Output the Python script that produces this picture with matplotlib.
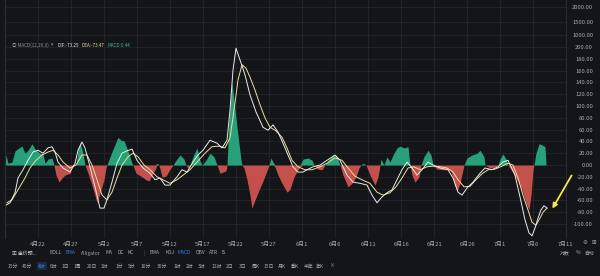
import matplotlib
matplotlib.use("Agg")
import matplotlib.pyplot as plt
import numpy as np

plt.rcParams['font.family'] = ['Noto Sans CJK SC', 'DejaVu Sans']

# MACD(12,26,9) on 4h bars, x = days since 4月22
hist_day = [-5.0, -4.85, -4.55, -3.94, -3.48, -2.88, -2.42, -1.97, -1.52, -0.91, -0.45, 0.30, 0.76, 1.06,
            1.52, 2.12, 2.42, 2.73, 3.18, 3.64, 4.09, 4.85, 5.15, 5.76, 6.06, 6.36, 6.82, 7.12, 7.58, 8.18,
            8.94, 9.55, 10.0, 10.3, 10.45, 10.91, 11.52, 12.12, 12.58, 13.03, 13.64, 14.24, 14.39, 14.85,
            15.76, 16.36, 16.82, 17.27, 17.73, 18.03, 18.33, 18.79, 19.39, 20.0, 20.45, 20.91, 21.52, 22.12,
            22.42, 22.73, 23.03, 23.48, 24.09, 24.55, 24.85, 25.45, 26.06, 26.67, 27.12, 27.58, 28.48, 28.64,
            28.94, 29.39, 29.85, 30.30, 30.76, 30.91, 31.21, 31.67, 32.12, 32.42, 32.88, 33.33, 33.94, 34.55,
            35.0, 35.30, 35.61, 35.91, 36.36, 36.97, 37.73, 38.18, 38.79, 39.39, 39.70, 40.15, 40.91, 41.52,
            41.82, 42.42, 43.03, 43.48, 43.94, 44.70, 45.30, 45.76, 46.21, 46.97, 47.58, 48.18, 48.64, 48.94,
            49.24, 49.70, 50.30, 51.06, 51.52, 51.82, 51.97, 52.42, 52.88, 53.33, 53.79, 54.39, 54.85, 55.45,
            56.06, 56.36, 56.67, 57.12, 57.73, 58.03, 58.48, 59.09, 59.55, 59.85, 60.45, 61.36, 62.12, 62.58,
            63.03, 63.48, 63.94, 64.39, 64.55, 65.0, 65.76, 66.52, 66.97, 67.58, 67.73, 68.48, 69.39, 69.70,
            70.0, 70.45, 70.91, 71.21, 71.82, 72.58, 73.33, 73.94, 74.39, 74.70, 75.0, 75.15, 75.45, 75.91,
            76.36, 76.82, 76.97]
hist_val = [0, 17, 3, 5, 24, 29, 32, 20, 25, 36, 27, 20, 19, 3,
            10, 12, 0, -17, -29, -22, -17, -14, -3, 0, 25, 39, 20, 0, -14, -34,
            -64, -42, -25, -5, 0, 14, 31, 47, 42, 41, 24, 3, 0, -14,
            -20, -25, -27, -17, -8, 3, 0, -20, -19, -7, 0, 8, 17, 10,
            0, -5, 0, 14, 29, 7, 0, 8, 20, 14, 0, -14, -10, 0,
            76, 141, 93, 51, 8, 0, -5, -25, -51, -73, -59, -47, -31, -14,
            0, 12, 5, -3, -17, -31, -46, -41, -20, -8, -3, 10, 12, 8,
            0, -7, -8, 0, 8, 17, 14, 0, -17, -37, -31, -20, -5, 0,
            3, 0, -17, -34, -20, 0, 10, 0, 14, 5, 17, 29, 32, 29,
            31, 0, -17, -29, -20, 0, 14, 25, 17, 0, -7, -8, -8, -10,
            -31, -44, -31, -8, 0, 12, 17, 20, 25, 14, 0, -5, -3, 0,
            10, 19, 10, 0, -10, -25, -42, -64, -76, -51, -8, 0, 20, 36,
            34, 31, 0]

dif_day = [-4.85, -4.24, -3.48, -3.03, -2.27, -1.52, -0.76, 0, 0.76, 1.52, 2.12, 2.58, 3.03, 3.79, 4.85,
           5.61, 6.06, 6.67, 7.12, 7.88, 8.64, 9.39, 10.0, 10.45, 11.21, 11.97, 12.73, 13.48, 14.24, 15.0,
           15.91, 16.97, 17.73, 18.48, 19.24, 20.0, 21.06, 21.82, 22.58, 23.48, 24.24, 25.0, 26.06, 27.12,
           27.88, 28.64, 29.09, 29.55, 30.0, 30.61, 31.36, 32.12, 33.03, 34.09, 34.85, 35.61, 36.36, 37.12,
           37.88, 38.64, 39.39, 40.15, 40.76, 41.67, 42.73, 43.79, 45.0, 45.76, 46.82, 47.73, 48.79, 49.85,
           50.61, 51.36, 52.12, 52.88, 53.64, 54.39, 55.15, 55.91, 56.67, 57.42, 58.18, 59.09, 59.85, 60.91,
           62.12, 62.88, 63.64, 64.24, 65.0, 65.91, 66.97, 67.73, 68.79, 69.70, 70.45, 71.21, 72.27, 73.03,
           73.79, 74.39, 74.85, 75.30, 75.76, 76.21, 76.67, 77.12]
dif_val = [-68, -64, -47, -22, -8, 8, 22, 25, 20, 29, 31, 22, 5, -5, -12,
           3, 25, 39, 29, -3, -37, -73, -73, -59, -29, 3, 20, 24, 27, 8,
           -5, -14, -25, -22, -34, -34, -20, -8, -12, 5, 17, 25, 42, 37,
           29, 42, 93, 161, 198, 178, 153, 119, 90, 64, 59, 68, 56, 37,
           17, -3, -12, -12, -8, -3, 0, 8, 17, 8, -17, -29, -31, -34,
           -51, -64, -54, -47, -42, -25, -8, 5, -5, -17, -8, 5, 0, -5,
           -8, -22, -46, -51, -39, -29, -14, -5, -8, -3, 5, 8, -17, -54,
           -93, -115, -120, -107, -90, -76, -69, -73]

dea_day = [-4.7, -3.94, -3.03, -1.97, -1.21, -0.30, 0.61, 1.52, 2.27, 3.03, 3.79, 4.85, 5.76, 6.67, 7.42,
           8.18, 8.94, 9.70, 10.45, 11.21, 11.97, 12.73, 13.64, 14.39, 15.15, 16.06, 16.97, 18.03, 18.94,
           20.0, 21.06, 22.0, 23.03, 24.09, 25.30, 26.36, 27.42, 28.33, 29.09, 29.70, 30.30, 30.91, 31.52,
           32.12, 32.88, 33.64, 34.39, 35.15, 36.06, 36.97, 37.73, 38.48, 39.39, 40.45, 41.52, 42.73, 43.79,
           45.0, 46.06, 46.97, 48.03, 49.09, 50.30, 51.36, 52.27, 53.33, 54.24, 55.15, 56.06, 56.97, 57.88,
           58.94, 59.85, 60.91, 61.97, 62.88, 63.64, 64.55, 65.45, 66.36, 67.27, 68.18, 69.24, 70.30, 71.21,
           71.97, 72.73, 73.48, 74.24, 74.85, 75.45, 76.06, 76.52, 77.12]
dea_val = [-64, -59, -42, -22, -5, 8, 17, 22, 25, 17, 5, -5, 0, 17, 17,
           0, -25, -51, -59, -46, -22, 0, 14, 20, 14, 0, -8, -20, -25,
           -31, -25, -17, -8, 5, 20, 31, 32, 29, 46, 93, 144, 170, 164,
           149, 127, 102, 80, 64, 58, 47, 29, 8, -3, -8, -8, -3, 3,
           12, 8, -5, -19, -25, -31, -46, -51, -47, -37, -22, -5, -3, -8,
           -3, -2, -3, -5, -12, -25, -37, -36, -25, -15, -8, -7, -2, 3,
           0, -22, -51, -76, -97, -102, -90, -80, -73]

tick_days = [0, 5, 10, 15, 20, 25, 30, 35, 40, 45, 50, 55, 60, 65, 70, 75, 80]
tick_dates = ['4月22', '4月27', '5月2', '5月7', '5月12', '5月17', '5月22', '5月27', '6月1',
              '6月6', '6月11', '6月16', '6月21', '6月26', '7月1', '7月6', '7月11']
y_ticks = [-100, -80, -60, -40, -20, 0, 20, 40, 60, 80, 100, 120, 140, 160, 180, 200, 221, 243, 268]
y_labels = ['-100.00', '-80.00', '-60.00', '-40.00', '-20.00', '0.00', '20.00', '40.00', '60.00',
            '80.00', '100.00', '120.00', '140.00', '160.00', '180.00', '200.00', '1000.00',
            '1500.00', '2000.00']

bg = '#141518'
grid_c = '#26282d'
green = '#26a17a'
red = '#c4504c'
txt_c = '#a9abb0'

fig = plt.figure(figsize=(6, 2.76), dpi=100, facecolor=bg)
ax = fig.add_axes([5 / 600, 38 / 276, 561 / 600, 238 / 276])
ax.set_facecolor(bg)

h = np.array(hist_val, dtype=float)
ax.fill_between(hist_day, 0, np.clip(h, 0, None), color=green, lw=0)
ax.fill_between(hist_day, 0, np.clip(h, None, 0), color=red, lw=0)
ax.plot(dea_day, dea_val, color='#eadf9c', lw=0.7)
ax.plot(dif_day, dif_val, color='#ececec', lw=0.7)

ax.set_xlim(-5, 80)
ax.set_ylim(-123.7, 279.7)

ax.set_xticks(tick_days)
ax.set_xticklabels(tick_dates)
ax.set_yticks(y_ticks)
ax.set_yticklabels(y_labels)
ax.yaxis.tick_right()
ax.tick_params(axis='x', length=0, pad=3, labelsize=4.2, colors=txt_c)
ax.tick_params(axis='y', length=0, pad=19.5, labelsize=4.2, colors=txt_c)
for lab in ax.get_yticklabels():
    lab.set_horizontalalignment('right')
ax.grid(True, color=grid_c, lw=0.5)
ax.set_axisbelow(True)
for side in ['top', 'bottom']:
    ax.spines[side].set_visible(False)
ax.spines['left'].set_color('#2e3036')
ax.spines['right'].set_color('#2e3036')
ax.spines['left'].set_linewidth(0.8)
ax.spines['right'].set_linewidth(0.6)

# indicator legend
fs = 3.3
ly = 1 - 45 / 276
fig.text(12 / 600, ly, '◎ MACD(12,26,9)', color='#8f9196', fontsize=fs, va='center')
fig.text(51 / 600, ly, '▾', color='#8f9196', fontsize=fs, va='center')
fig.text(58 / 600, ly, 'DIF:-73.25', color='#e8e8e8', fontsize=fs, va='center')
fig.text(82 / 600, ly, 'DEA:-73.47', color='#e8dc8a', fontsize=fs, va='center')
fig.text(107 / 600, ly, 'MACD:0.44', color='#3fb58a', fontsize=fs, va='center')

# yellow pointer arrow
ax.annotate('', xy=(551 / 600, 1 - 211 / 276), xytext=(573 / 600, 1 - 173 / 276),
            xycoords='figure fraction', textcoords='figure fraction',
            arrowprops=dict(arrowstyle='-|>', color='#f4e84a', lw=1.3, mutation_scale=7))

# toolbar rows
fs2 = 3.5
fig.text(585 / 600, 1 - 243 / 276, '⚙', color=txt_c, fontsize=4, ha='center', va='center')
fig.text(594 / 600, 1 - 243 / 276, '⊞', color=txt_c, fontsize=4, ha='center', va='center')
row1 = [(12, '▣ 金价预...', '#d0d0d0'), (49, 'BOLL', txt_c), (65, 'EMA', '#3a7bd5'),
        (81, 'Alligator', txt_c), (105, 'MA', txt_c), (117, 'DC', txt_c), (128, 'KC', txt_c),
        (143, '|', '#555555'), (150, 'EMA', txt_c), (165, 'KDJ', txt_c), (178, 'MACD', '#3a7bd5'),
        (196, 'OBV', txt_c), (209, 'ATR', txt_c), (221, 'IS', txt_c),
        (560, '对数', txt_c), (576, '%', txt_c), (584, '自动', txt_c)]
for x, s, c in row1:
    fig.text(x / 600, 1 - 253 / 276, s, color=c, fontsize=fs2, va='center')

row2 = ['15分', '45分', '4时', '6时', '1日', '1周', '20日', '3时', '1分', '5分', '10分', '30分',
        '1时', '2时', '3时', '12时', '2日', '3日', '周K', '15日', '月K', '季K', '半年', '年K', '×']
row2_x = [8, 22, 38, 50, 62, 74, 87, 101, 116, 128, 141, 157, 174, 186, 198, 212, 226, 239,
          252, 264, 278, 291, 304, 316, 329]
for x, s in zip(row2_x, row2):
    if s == '4时':
        fig.text(x / 600, 1 - 266 / 276, s, color='#3a7bd5', fontsize=fs2, va='center',
                 bbox=dict(boxstyle='square,pad=0.25', fc='#1c2a44', ec='none'))
    else:
        fig.text(x / 600, 1 - 266 / 276, s, color=txt_c, fontsize=fs2, va='center')

plt.savefig('out.png', dpi=100, facecolor=bg)
plt.close()
